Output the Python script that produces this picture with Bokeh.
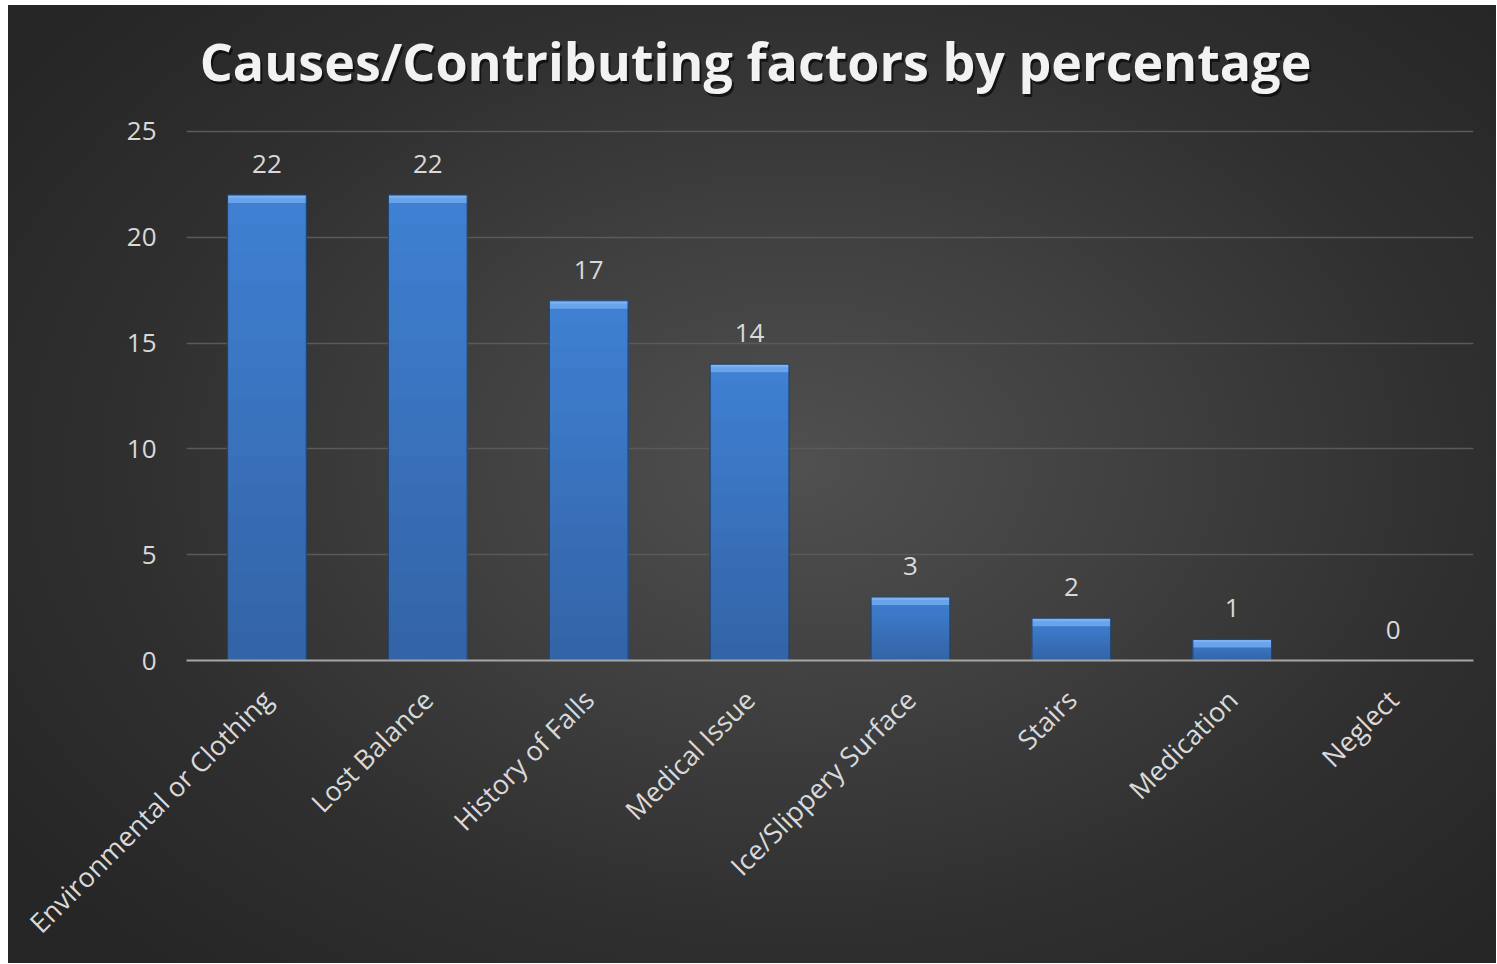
from math import pi
from bokeh.plotting import figure
from bokeh.models import FactorRange, Range1d, LabelSet, ColumnDataSource, Label
from bokeh.core.properties import value
from bokeh.embed import file_html
from bokeh.resources import INLINE

categories = ["Environmental or Clothing", "Lost Balance", "History of Falls", "Medical Issue",
              "Ice/Slippery Surface", "Stairs", "Medication", "Neglect"]
values = [22, 22, 17, 14, 3, 2, 1, 0]
y_ticks = [0, 5, 10, 15, 20, 25]
title_text = "Causes/Contributing factors by percentage"

FONT = "Open Sans"
LABEL_COLOR = "#d9d9d9"

p = figure(x_range=FactorRange(*categories), y_range=Range1d(0, 30.95),
           width=1488, height=958, output_backend="svg", toolbar_location=None,
           min_border_left=178, min_border_right=23, min_border_top=0, min_border_bottom=303)

p.background_fill_color = None
p.border_fill_color = None
p.outline_line_color = None
p.styles = {"margin-left": "8px", "margin-top": "5px",
            "background": "radial-gradient(ellipse 65% 70% at 53% 48%, #505050 0%, #404040 35%, #2f2f2f 70%, #262626 100%)"}

# bars with a vertical shading (bottom darker -> top lighter); overlapping layers avoid seams
n_slices = 16
bottom_rgb = (0x33, 0x63, 0xa6)
top_rgb = (0x3f, 0x81, 0xd3)
for k in range(n_slices, 0, -1):
    t = (k - 0.5) / n_slices
    col = "#%02x%02x%02x" % tuple(int(round(b + (c - b) * t)) for b, c in zip(bottom_rgb, top_rgb))
    p.vbar(x=categories, bottom=0, top=[v * k / n_slices for v in values], width=0.49,
           fill_color=col, line_color=None)

# top bevel
p.vbar(x=categories, top=values, bottom=[max(v - 0.38, 0) for v in values], width=0.49,
       fill_color="#68a3ec", line_color=None)
p.vbar(x=categories, top=values, bottom=[max(v - 0.14, 0) for v in values], width=0.49,
       fill_color="#7ab2f2", line_color=None)
# outline
p.vbar(x=categories, top=values, bottom=0, width=0.49,
       fill_color=None, line_color="#22446f", line_width=1.2)

src = ColumnDataSource(dict(cat=categories, val=values, lab=[str(v) for v in values]))
labels = LabelSet(x="cat", y="val", text="lab", source=src, y_offset=22,
                  text_align="center", text_baseline="bottom",
                  text_font=value(FONT), text_font_size="26px", text_color=LABEL_COLOR)
p.add_layout(labels)

# axes
p.yaxis.ticker = y_ticks
p.yaxis.axis_line_color = None
p.yaxis.major_tick_line_color = None
p.yaxis.minor_tick_line_color = None
p.yaxis.major_label_standoff = 24
p.yaxis.major_label_text_font = FONT
p.yaxis.major_label_text_font_size = "26px"
p.yaxis.major_label_text_color = LABEL_COLOR

p.xaxis.axis_line_color = "#a6a6a6"
p.xaxis.axis_line_width = 2
p.xaxis.major_tick_line_color = None
p.xaxis.minor_tick_line_color = None
p.xaxis.major_label_orientation = pi / 4
p.xaxis.major_label_standoff = 28
p.xaxis.major_label_text_font = FONT
p.xaxis.major_label_text_font_size = "27px"
p.xaxis.major_label_text_color = LABEL_COLOR

p.xgrid.grid_line_color = None
p.ygrid.grid_line_color = "#5a5a5a"
p.ygrid.grid_line_width = 1.5

# title with shadow
shadow = Label(x=3.537, y=28.33, text=title_text, text_align="center", text_baseline="middle",
               text_font=FONT, text_font_size="52px", text_font_style="bold",
               text_color="black", text_alpha=0.6, x_offset=2, y_offset=-3)
title = Label(x=3.537, y=28.33, text=title_text, text_align="center", text_baseline="middle",
              text_font=FONT, text_font_size="52px", text_font_style="bold",
              text_color="#f2f2f2")
p.add_layout(shadow)
p.add_layout(title)

open("out.html", "w").write(file_html(p, INLINE))
